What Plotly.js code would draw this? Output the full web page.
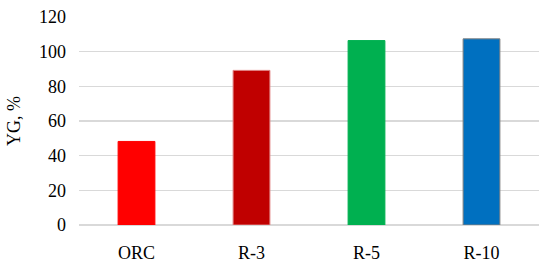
<!DOCTYPE html>
<html>
<head>
<meta charset="utf-8">
<script src="https://cdn.plot.ly/plotly-3.0.1.min.js"></script>
<style>
  html, body { margin: 0; padding: 0; background: #fff; }
  #chart { width: 550px; height: 266px; }
</style>
</head>
<body>
<div id="chart"></div>
<script>
  let categories = ["ORC", "R-3", "R-5", "R-10"];
  let yieldValues = [48.2, 89.2, 106.4, 107.4];
  let barColors = ["#FF0000", "#C00000", "#00B050", "#0070C0"];
  let barOutlines = ["#FF0000", "#E08080", "#00B050", "#808080"];
  let yTicks = [0, 20, 40, 60, 80, 100, 120];

  let trace = {
    x: categories,
    y: yieldValues,
    type: "bar",
    marker: { color: barColors, line: { color: barOutlines, width: 1 } },
    hoverinfo: "none"
  };

  let layout = {
    width: 550,
    height: 266,
    margin: { l: 79, r: 11, t: 17, b: 41 },
    paper_bgcolor: "#fff",
    plot_bgcolor: "#fff",
    font: { family: "Liberation Serif, serif", size: 18, color: "#000" },
    bargap: 0.68,
    showlegend: false,
    xaxis: {
      showgrid: false,
      showline: false,
      zeroline: false,
      ticks: "",
      ticklabelstandoff: 15
    },
    yaxis: {
      range: [0, 120],
      tickvals: yTicks,
      showgrid: true,
      gridcolor: "#D9D9D9",
      gridwidth: 1.5,
      zeroline: true,
      zerolinecolor: "#D9D9D9",
      zerolinewidth: 1.5,
      showline: false,
      ticks: "",
      ticklabelstandoff: 12,
      title: { text: "YG, %", standoff: 13, font: { size: 18 } }
    }
  };

  Plotly.newPlot("chart", [trace], layout, { displayModeBar: false, staticPlot: true });
</script>
</body>
</html>
